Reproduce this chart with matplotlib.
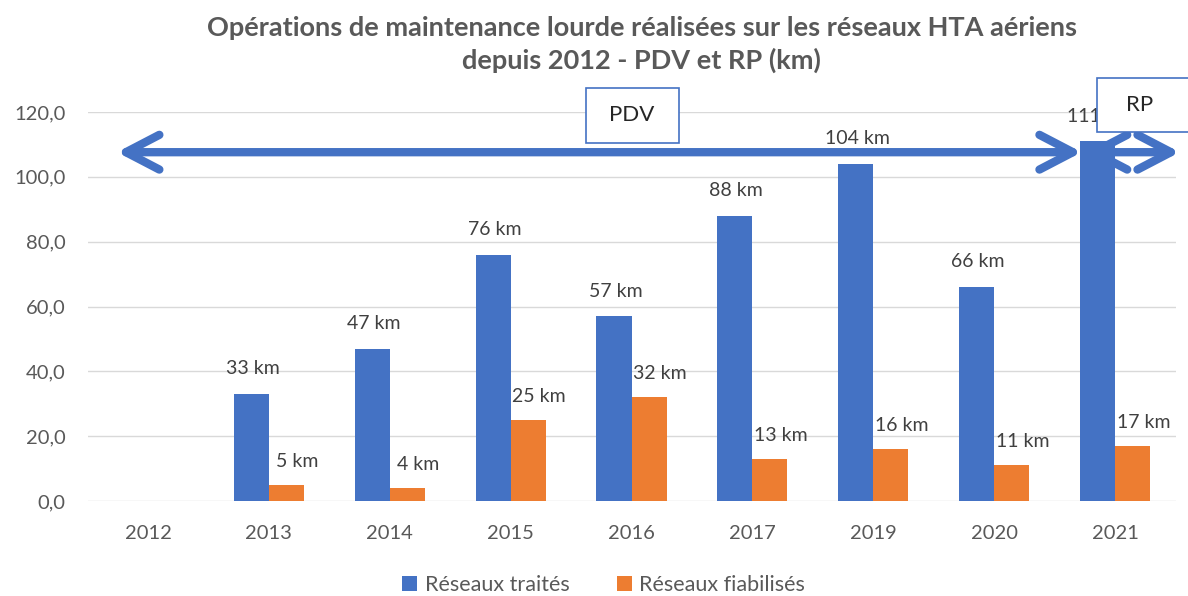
import numpy as np
import matplotlib.pyplot as plt
from matplotlib.patches import Rectangle

plt.rcParams['font.family'] = ['Lato', 'DejaVu Sans']

annees = ['2012', '2013', '2014', '2015', '2016', '2017', '2019', '2020', '2021']
traites = [0, 33, 47, 76, 57, 88, 104, 66, 111]
fiabilises = [0, 5, 4, 25, 32, 13, 16, 11, 17]
yticks = [0, 20, 40, 60, 80, 100, 120]

bleu = '#4472C4'
orange = '#ED7D31'
gris = '#595959'

fig = plt.figure(figsize=(11.88, 5.96), dpi=100)
ax = fig.add_axes([87.5/1188, 1-501/596, (1175.5-87.5)/1188, (501-112)/596])

x = np.arange(len(annees))
w = 0.29
b1 = ax.bar(x - w/2, traites, w, color=bleu, label='Réseaux traités', zorder=3)
b2 = ax.bar(x + w/2, fiabilises, w, color=orange, label='Réseaux fiabilisés', zorder=3)

# etiquettes (pas pour 2012)
for i in range(1, len(annees)):
    ax.annotate(f'{traites[i]} km', (x[i] - w/2, traites[i]), xytext=(1, 12),
                textcoords='offset points', ha='center', va='bottom',
                fontsize=14, color='#404040', zorder=4, annotation_clip=False)
    ax.annotate(f'{fiabilises[i]} km', (x[i] + w/2, fiabilises[i]), xytext=(8, 11),
                textcoords='offset points', ha='center', va='bottom',
                fontsize=14, color='#404040', zorder=4, annotation_clip=False)

ax.set_xlim(-0.5, len(annees) - 0.5)
ax.set_ylim(0, 120)
ax.set_yticks(yticks)
ax.set_yticklabels([f'{v:.1f}'.replace('.', ',') for v in yticks])
ax.set_xticks(x)
ax.set_xticklabels(annees)
ax.tick_params(length=0, labelsize=14.5, labelcolor=gris)
ax.tick_params(axis='y', pad=16)
ax.tick_params(axis='x', pad=17)
ax.grid(axis='y', color='#D9D9D9', lw=1, zorder=0)
ax.set_axisbelow(True)
for s in ax.spines.values():
    s.set_visible(False)

# fleches PDV / RP
ap = dict(arrowstyle='<->,head_length=2.4,head_width=1.25', lw=6, color=bleu,
          shrinkA=0, shrinkB=0, capstyle='round', joinstyle='round')
ax.annotate('', xy=(7.725, 107.6), xytext=(-0.256, 107.6), arrowprops=ap,
            annotation_clip=False, zorder=2.5)
ax.annotate('', xy=(8.536, 107.6), xytext=(7.75, 107.6), arrowprops=ap,
            annotation_clip=False, zorder=2.5)

ax.add_patch(Rectangle((3.62, 110.5), 0.77, 17, fc='white', ec=bleu, lw=1.2,
                       clip_on=False, zorder=5))
ax.text(4.0, 119, 'PDV', ha='center', va='center', fontsize=16, color='#262626', zorder=6)
ax.add_patch(Rectangle((7.85, 113.9), 1.2, 16.7, fc='white', ec=bleu, lw=1.2,
                       clip_on=False, zorder=5))
ax.text(8.2, 122.3, 'RP', ha='center', va='center', fontsize=16, color='#262626',
        zorder=6, clip_on=False)

fig.text(0.54, 1 - 16/596,
         'Opérations de maintenance lourde réalisées sur les réseaux HTA aériens\n'
         'depuis 2012 - PDV et RP (km)',
         ha='center', va='top', fontsize=19.5, fontweight='bold', color=gris,
         linespacing=1.38)

fig.legend(handles=[b1, b2], loc='center', bbox_to_anchor=(0.508, 1 - 585/596),
           ncol=2, frameon=False, fontsize=15.5, labelcolor=gris,
           handlelength=0.7, handleheight=0.7, columnspacing=2.2, handletextpad=0.35)

fig.savefig('out.png', dpi=100)
